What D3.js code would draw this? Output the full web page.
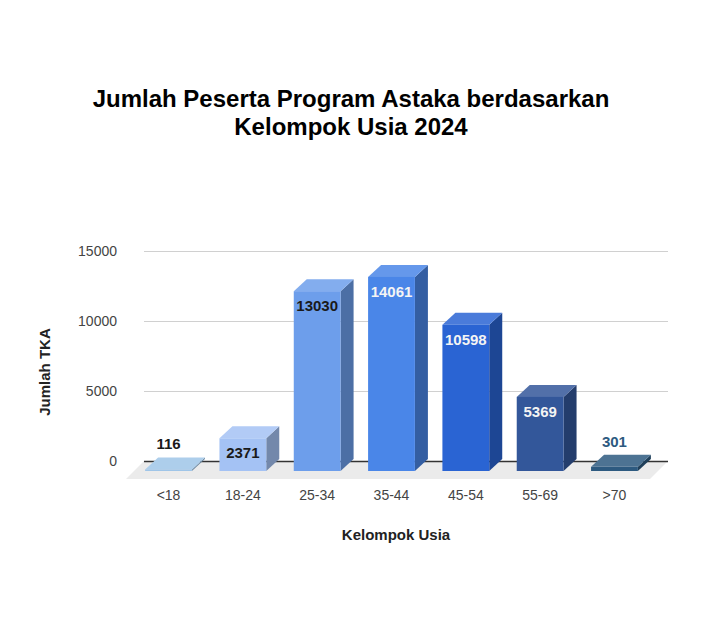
<!DOCTYPE html>
<html>
<head>
<meta charset="utf-8">
<script src="https://cdn.jsdelivr.net/npm/d3@7"></script>
<style>
  body { margin: 0; background: #fff; }
  text { font-family: "Liberation Sans", Arial, sans-serif; }
</style>
</head>
<body>
<div id="vis"></div>
<script>
var width = 705;
var height = 640;

// data
var categories = ["<18", "18-24", "25-34", "35-44", "45-54", "55-69", ">70"];
var values = [116, 2371, 13030, 14061, 10598, 5369, 301];
var barColors = ["#9fc5e8", "#a4c2f4", "#6d9eeb", "#4a86e8", "#2a64d3", "#33579a", "#2d5a80"];
var yTicks = [0, 5000, 10000, 15000];

var titleLines = ["Jumlah Peserta Program Astaka berdasarkan", "Kelompok Usia 2024"];

var svg = d3.select("#vis").append("svg")
    .attr("width", width)
    .attr("height", height);

svg.append("rect").attr("width", width).attr("height", height).attr("fill", "#fff");

var plot = {left: 144, right: 668, top: 251, bottom: 461};
var depth = {dx: 13, dy: 12};

var y = d3.scaleLinear().domain([0, 15000]).range([plot.bottom, plot.top]);
// bars sit on a plane slightly in front of the grid wall
var yBar = d3.scaleLinear().domain([0, 15000]).range([459, 252]);

var x = d3.scaleBand()
    .domain(categories)
    .range([144, 665])
    .paddingInner(0.37)
    .paddingOuter(0.19);

// floor
svg.append("polygon")
    .attr("points", [[plot.left, plot.bottom], [plot.right, plot.bottom],
                     [plot.right - 18, plot.bottom + 18], [plot.left - 18, plot.bottom + 18]]
                     .map(function(p){ return p.join(","); }).join(" "))
    .attr("fill", "#ebebeb");

// grid + y tick labels
var yAxis = svg.append("g")
    .attr("transform", "translate(" + plot.left + ",0)")
    .call(d3.axisLeft(y).tickValues(yTicks).tickSize(-(plot.right - plot.left)).tickPadding(27).tickFormat(d3.format("d")));

yAxis.select(".domain").remove();
yAxis.selectAll(".tick line")
    .attr("stroke", function(d){ return d === 0 ? "#333" : "#d0d0d0"; })
    .attr("stroke-width", function(d){ return d === 0 ? 1.3 : 1; });
yAxis.selectAll(".tick text")
    .attr("fill", "#444")
    .style("font-size", "14px")
    .style("font-family", "'Liberation Sans', Arial, sans-serif");

// bars
var bars = svg.selectAll("g.bar")
    .data(values)
    .enter()
    .append("g")
    .attr("class", "bar");

function pts(a) {
    return a.map(function(p){ return p[0] + "," + p[1]; }).join(" ");
}

bars.each(function(v, i) {
    var g = d3.select(this);
    var w = x.bandwidth();
    var xb = x(categories[i]);
    var yb0 = yBar(0);
    var ybt = yBar(v);
    var xf = xb - depth.dx;
    var yf0 = yb0 + depth.dy;
    var yft = ybt + depth.dy;
    var base = barColors[i];
    var top = d3.interpolateRgb(base, "#ffffff")(0.15);
    var side = d3.color(base).darker(1).formatHex();

    g.append("polygon")
        .attr("points", pts([[xf + w, yft], [xb + w, ybt], [xb + w, yb0], [xf + w, yf0]]))
        .attr("fill", side);
    g.append("polygon")
        .attr("points", pts([[xf, yft], [xf + w, yft], [xb + w, ybt], [xb, ybt]]))
        .attr("fill", top);
    g.append("rect")
        .attr("x", xf)
        .attr("y", yft)
        .attr("width", w)
        .attr("height", Math.max(0, yf0 - yft))
        .attr("fill", base);
});

// value labels
bars.append("text")
    .attr("x", function(d, i){ return x(categories[i]) - depth.dx + x.bandwidth() / 2; })
    .attr("y", function(d){
        var frontH = yBar(0) - yBar(d);
        return frontH > 30 ? yBar(d) + depth.dy + 20 : yBar(d) - 8;
    })
    .attr("text-anchor", "middle")
    .style("font-size", "15px")
    .style("font-weight", "bold")
    .attr("fill", function(d, i){
        var inside = (yBar(0) - yBar(d)) > 30;
        var lum = d3.hsl(barColors[i]).l;
        if (inside) return lum > 0.6 ? "#1a1a1a" : "#f4f4f4";
        return lum > 0.6 ? "#1a1a1a" : barColors[i];
    })
    .text(function(d){ return d; });

// x tick labels
svg.append("g")
    .selectAll("text")
    .data(categories)
    .enter()
    .append("text")
    .attr("x", function(d){ return x(d) - depth.dx + x.bandwidth() / 2; })
    .attr("y", 500)
    .attr("text-anchor", "middle")
    .attr("fill", "#444")
    .style("font-size", "14px")
    .text(function(d){ return d; });

// axis titles
svg.append("text")
    .attr("x", 396)
    .attr("y", 540)
    .attr("text-anchor", "middle")
    .attr("fill", "#222")
    .style("font-size", "15px")
    .style("font-weight", "bold")
    .text("Kelompok Usia");

svg.append("text")
    .attr("transform", "translate(50,372) rotate(-90)")
    .attr("text-anchor", "middle")
    .attr("fill", "#222")
    .style("font-size", "15px")
    .style("font-weight", "bold")
    .text("Jumlah TKA");

// title
svg.append("g")
    .selectAll("text")
    .data(titleLines)
    .enter()
    .append("text")
    .attr("x", 351)
    .attr("y", function(d, i){ return 107 + i * 28; })
    .attr("text-anchor", "middle")
    .attr("fill", "#000")
    .style("font-size", "24px")
    .style("font-weight", "bold")
    .text(function(d){ return d; });
</script>
</body>
</html>
